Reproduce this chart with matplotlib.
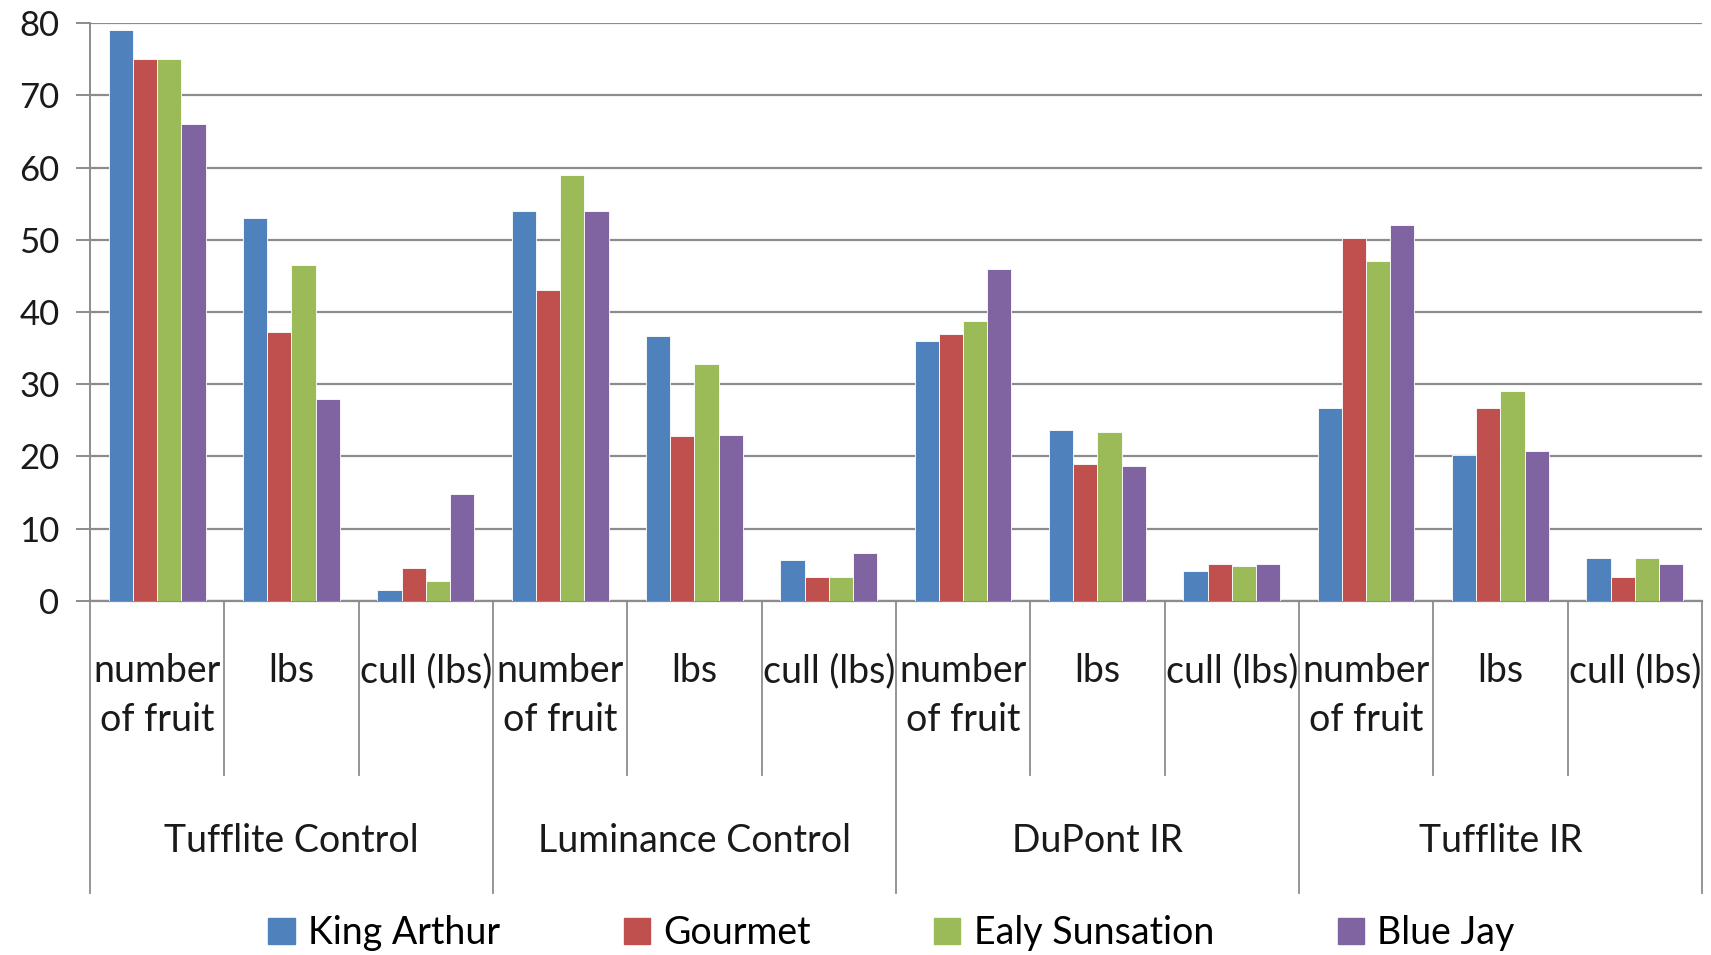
import matplotlib
matplotlib.use("Agg")
import matplotlib.pyplot as plt
import numpy as np
from matplotlib.patches import Rectangle
from matplotlib.transforms import blended_transform_factory

plt.rcParams["font.family"] = ["Lato", "DejaVu Sans"]

groups = ["Tufflite Control", "Luminance Control", "DuPont IR", "Tufflite IR"]
measures = ["number\nof fruit", "lbs", "cull (lbs)"]
series = ["King Arthur", "Gourmet", "Ealy Sunsation", "Blue Jay"]
colors = ["#4F81BD", "#C0504D", "#9BBB59", "#8064A2"]

king_arthur = [79, 53, 1.5, 54, 36.7, 5.7, 36, 23.7, 4.2, 26.7, 20.2, 6]
gourmet = [75, 37.3, 4.5, 43, 22.8, 3.3, 37, 19, 5.1, 50.3, 26.7, 3.3]
ealy_sunsation = [75, 46.5, 2.7, 59, 32.8, 3.3, 38.8, 23.4, 4.8, 47, 29.1, 6]
blue_jay = [66, 28, 14.8, 54, 23, 6.6, 46, 18.7, 5.1, 52, 20.7, 5.1]
values = [king_arthur, gourmet, ealy_sunsation, blue_jay]

fig = plt.figure(figsize=(17.11, 9.55), dpi=100)
ax = fig.add_axes([0.0526, 0.3707, 0.9421, 0.6052])

n = len(groups) * len(measures)
x = np.arange(n)
bar_w = 0.18
for i, (name, vals, col) in enumerate(zip(series, values, colors)):
    ax.bar(x + (i - 1.5) * bar_w, vals, width=bar_w, color=col,
           edgecolor="white", linewidth=0.6, label=name, zorder=3)

ax.set_xlim(-0.5, n - 0.5)
ax.set_ylim(0, 80)
ax.set_yticks(np.arange(0, 81, 10))
ax.yaxis.grid(True, color="#8c8c8c", linewidth=1.6, zorder=0)
ax.tick_params(axis="y", length=10, width=1.4, color="#8c8c8c",
               labelsize=25, pad=12, labelcolor="#1a1a1a")
ax.tick_params(axis="x", length=0, labelbottom=False)
for side in ["top", "right"]:
    ax.spines[side].set_visible(False)
ax.spines["left"].set_color("#8c8c8c")
ax.spines["left"].set_linewidth(1.4)
ax.spines["bottom"].set_color("#8c8c8c")
ax.spines["bottom"].set_linewidth(1.6)

# hierarchical category axis
trans = blended_transform_factory(ax.transData, ax.transAxes)
for k in range(n + 1):
    xb = k - 0.5
    bottom = -0.505 if k % 3 == 0 else -0.301
    ax.plot([xb, xb], [0, bottom], transform=trans, color="#8c8c8c",
            linewidth=1.3, clip_on=False)
for k in range(n):
    ax.text(k, -0.09, measures[k % 3], transform=trans, ha="center",
            va="top", fontsize=27, color="#1a1a1a", linespacing=1.45)
for g, name in enumerate(groups):
    ax.text(g * 3 + 1, -0.415, name, transform=trans, ha="center",
            va="center", fontsize=27, color="#1a1a1a")

handles = [Rectangle((0, 0), 1, 1, color=c) for c in colors]
fig.legend(handles, series, loc="center", bbox_to_anchor=(0.521, 0.023),
           ncol=4, frameon=False, fontsize=27, handlelength=0.7,
           handleheight=0.7, handletextpad=0.35, columnspacing=3.3)

fig.savefig("out.png", dpi=100, facecolor="white")
